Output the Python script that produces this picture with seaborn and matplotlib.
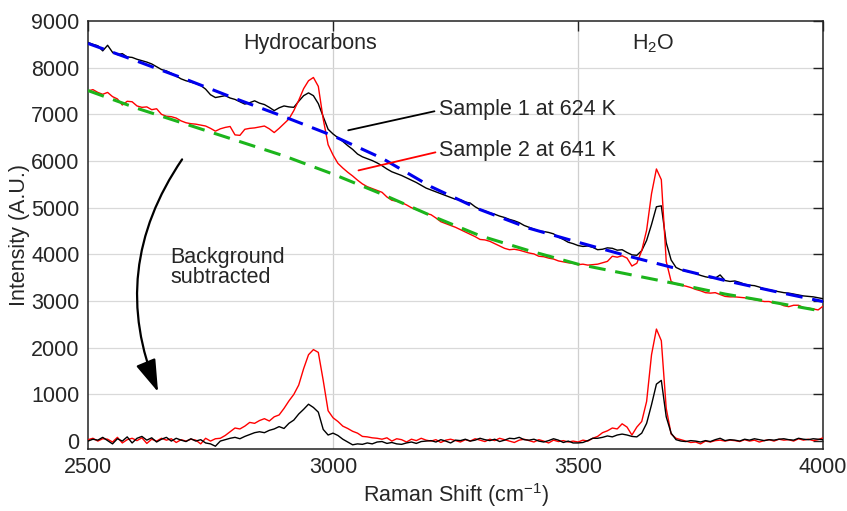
import numpy as np
import pandas as pd
import matplotlib
matplotlib.use("Agg")
import matplotlib.pyplot as plt
import seaborn as sns
from matplotlib.patches import FancyArrowPatch

# ---------------- data ----------------
raman_shift = np.arange(2500, 4001, 10)

sample1_raw = [
    8540, 8500, 8470, 8360, 8480, 8330, 8280, 8300, 8230, 8220,
    8180, 8150, 8120, 8080, 8020, 7960, 7930, 7880, 7820, 7760,
    7720, 7690, 7660, 7620, 7540, 7420, 7360, 7380, 7400, 7350,
    7320, 7270, 7220, 7250, 7290, 7240, 7210, 7150, 7080, 7140,
    7180, 7160, 7150, 7280, 7400, 7460, 7400, 7230, 6950, 6680,
    6580, 6500, 6420, 6330, 6250, 6150, 6090, 6050, 6010, 5960,
    5900, 5830, 5770, 5730, 5690, 5640, 5590, 5540, 5480, 5420,
    5380, 5340, 5300, 5260, 5220, 5180, 5170, 5120, 5100, 5020,
    4960, 4930, 4890, 4860, 4820, 4790, 4750, 4720, 4680, 4620,
    4580, 4540, 4500, 4490, 4470, 4440, 4370, 4320, 4260, 4230,
    4190, 4170, 4180, 4150, 4100, 4110, 4140, 4130, 4090, 4100,
    4040, 3990, 3980, 4080, 4300, 4640, 5020, 5040, 4250, 3880,
    3720, 3670, 3640, 3620, 3590, 3550, 3520, 3500, 3490, 3560,
    3440, 3420, 3430, 3400, 3360, 3340, 3330, 3300, 3260, 3240,
    3220, 3200, 3180, 3170, 3150, 3130, 3110, 3100, 3090, 3070,
    3050,
]

sample2_raw = [
    7500, 7530, 7470, 7430, 7470, 7380, 7330, 7200, 7280, 7270,
    7180, 7150, 7160, 7100, 7120, 7000, 6960, 6950, 6920, 6860,
    6820, 6800, 6790, 6770, 6750, 6700, 6640, 6690, 6720, 6740,
    6560, 6550, 6680, 6700, 6710, 6730, 6750, 6690, 6610, 6700,
    6800, 6900, 7080, 7300, 7550, 7720, 7790, 7600, 6900, 6350,
    6130, 5950, 5850, 5760, 5680, 5590, 5510, 5450, 5410, 5370,
    5330, 5230, 5160, 5140, 5110, 5060, 5000, 4960, 4920, 4880,
    4850, 4780, 4700, 4660, 4620, 4580, 4530, 4480, 4430, 4380,
    4320, 4310, 4280, 4230, 4180, 4130, 4100, 4110, 4090, 4060,
    4030, 4010, 3960, 3950, 3920, 3900, 3860, 3840, 3820, 3810,
    3780, 3790, 3770, 3780, 3790, 3820, 3850, 3960, 3940, 3970,
    3920, 3750, 3810, 4080, 4520, 5300, 5830, 5600, 3850, 3420,
    3360, 3340, 3320, 3290, 3250, 3220, 3180, 3170, 3180, 3140,
    3100, 3090, 3090, 3080, 3070, 3050, 3030, 3010, 2990, 2990,
    2960, 2950, 2900, 2880, 2910, 2910, 2860, 2850, 2830, 2810,
    2890,
]

sample1_sub = [
    0, 40, 20, 80, 10, -60, 50, 0, 90, -40,
    60, 100, 20, 70, -20, 40, 80, 0, 60, 20,
    -10, 50, 0, 30, -40, -60, -110, 0, 30, 60,
    80, 50, 100, 140, 180, 200, 180, 230, 260, 310,
    270, 380, 450, 580, 680, 790, 720, 620, 250, 130,
    170, 120, 40, -20, -80, -60, -70, -40, -60, -20,
    -10, -50, -30, -60, -70, -40, -20, -50, -10, 0,
    10, -20, 30, 0, -40, 20, 10, 40, 0, 20,
    60, 30, 10, 40, -10, 20, 60, 50, 80, 30,
    20, 40, 0, -20, 10, 50, 20, -30, 0, -40,
    -40, -30, 10, 60, 60, 80, 110, 90, 130, 150,
    130, 100, 90, 170, 380, 780, 1220, 1300, 520, 170,
    30, 0, -10, 10, 0, -20, 10, -10, 30, 60,
    10, 30, 20, 0, 40, 20, 50, 30, 10, 30,
    20, 40, 50, 30, 20, 60, 40, 30, 50, 40,
    30,
]

sample2_sub = [
    30, 60, 0, 50, 40, -20, 80, -40, 30, 60,
    10, 70, -50, 40, 0, 60, 20, 50, -30, 30,
    0, 40, 20, -60, 60, 0, 50, 60, 120, 200,
    280, 260, 320, 400, 380, 440, 480, 430, 520, 560,
    700, 860, 1000, 1200, 1550, 1850, 1960, 1900, 1300, 650,
    500, 420, 320, 270, 210, 170, 100, 90, 70, 60,
    40, 70, 0, 50, 30, -20, 40, 10, 60, 20,
    0, 30, -30, 20, 40, 10, -20, 30, 0, 50,
    20, -10, 40, 10, 60, 30, 0, -30, 20, 40,
    10, -20, 30, 0, -40, 20, -10, 10, -20, 0,
    -20, 20, 0, 60, 100, 180, 220, 280, 260, 370,
    300, 130, 300, 420, 850, 1850, 2400, 2150, 700, 150,
    60, 30, 0, -30, -20, -60, 0, -20, 10, 20,
    0, 20, 10, -10, 30, 0, 20, -20, 10, 30,
    0, 40, 20, 30, 0, 50, 20, 40, 10, 30,
    70,
]

bg_shift = [2500, 2600, 2700, 2800, 2900, 3000, 3100, 3200,
            3300, 3400, 3500, 3600, 3700, 3800, 3900, 4000]
background1 = [8520, 8140, 7750, 7340, 6950, 6540, 6060, 5450,
               4960, 4560, 4260, 3970, 3700, 3440, 3210, 2990]
background2 = [7510, 7130, 6790, 6450, 6110, 5720, 5290, 4830,
               4400, 4080, 3790, 3580, 3370, 3150, 2970, 2780]

x_ticks = [2500, 3000, 3500, 4000]
y_ticks = [0, 1000, 2000, 3000, 4000, 5000, 6000, 7000, 8000, 9000]

# ---------------- style ----------------
sns.set_style("white")
plt.rcParams['font.family'] = ['Liberation Sans', 'DejaVu Sans']
plt.rcParams['mathtext.fontset'] = 'custom'
plt.rcParams['mathtext.rm'] = 'Liberation Sans'
plt.rcParams['mathtext.it'] = 'Liberation Sans'
plt.rcParams['mathtext.default'] = 'regular'

FS = 15.5

spec = pd.DataFrame({
    "shift": raman_shift,
    "s1_raw": sample1_raw,
    "s2_raw": sample2_raw,
    "s1_sub": sample1_sub,
    "s2_sub": sample2_sub,
})
bg = pd.DataFrame({"shift": bg_shift, "bg1": background1, "bg2": background2})

fig = plt.figure(figsize=(8.47, 5.11), dpi=100)
ax = fig.add_axes([0.1039, 0.1213, 0.8678, 0.8376])

# grid
for xv in [3000, 3500]:
    ax.axvline(xv, color='#cfcfcf', lw=0.9, zorder=0)
for yv in y_ticks[1:-1]:
    ax.axhline(yv, color='#d9d9d9', lw=0.9, zorder=0)

sns.lineplot(data=spec, x="shift", y="s1_raw", color="black", lw=1.0, ax=ax, zorder=3)
sns.lineplot(data=spec, x="shift", y="s2_raw", color="#ff0000", lw=1.0, ax=ax, zorder=3)
sns.lineplot(data=bg, x="shift", y="bg1", color="#0000ee", lw=2.2,
             linestyle=(0, (5.5, 3.2)), ax=ax, zorder=4)
sns.lineplot(data=bg, x="shift", y="bg2", color="#1cb51c", lw=2.2,
             linestyle=(0, (5.5, 3.2)), ax=ax, zorder=4)
sns.lineplot(data=spec, x="shift", y="s2_sub", color="#ff0000", lw=1.0, ax=ax, zorder=3)
sns.lineplot(data=spec, x="shift", y="s1_sub", color="black", lw=1.0, ax=ax, zorder=3)

ax.set_xlim(2500, 4000)
ax.set_ylim(-170, 9000)
ax.set_xticks(x_ticks)
ax.set_yticks(y_ticks)
ax.tick_params(axis='both', which='both', direction='in', length=7, width=1.0,
               labelsize=FS, top=True, right=True, labeltop=False, labelright=False,
               color='#222222', pad=6)
for s in ax.spines.values():
    s.set_color('#222222')
    s.set_linewidth(1.1)

ax.set_xlabel("Raman Shift (cm$^{-1}$)", fontsize=FS, labelpad=2)
ax.set_ylabel("Intensity (A.U.)", fontsize=FS, labelpad=1)

# annotations
ax.text(2954, 8510, "Hydrocarbons", fontsize=FS, ha='center', va='center')
ax.text(3653, 8510, "H$_2$O", fontsize=FS, ha='center', va='center')
ax.text(3217, 7100, "Sample 1 at 624 K", fontsize=FS, ha='left', va='center')
ax.text(3217, 6220, "Sample 2 at 641 K", fontsize=FS, ha='left', va='center')
ax.plot([3031, 3207], [6658, 7066], color='black', lw=1.3, zorder=5)
ax.plot([3052, 3209], [5799, 6186], color='#ff0000', lw=1.3, zorder=5)
ax.text(2668, 3715, "Background\nsubtracted", fontsize=FS, ha='left', va='center',
        linespacing=0.95)

arrow = FancyArrowPatch((2692, 6035), (2643, 1052),
                        connectionstyle="arc3,rad=0.27",
                        arrowstyle="-|>,head_length=0.5,head_width=0.16",
                        mutation_scale=40, lw=1.6, color='black',
                        shrinkA=0, shrinkB=0, zorder=5)
ax.add_patch(arrow)

fig.savefig("out.png", dpi=100)
